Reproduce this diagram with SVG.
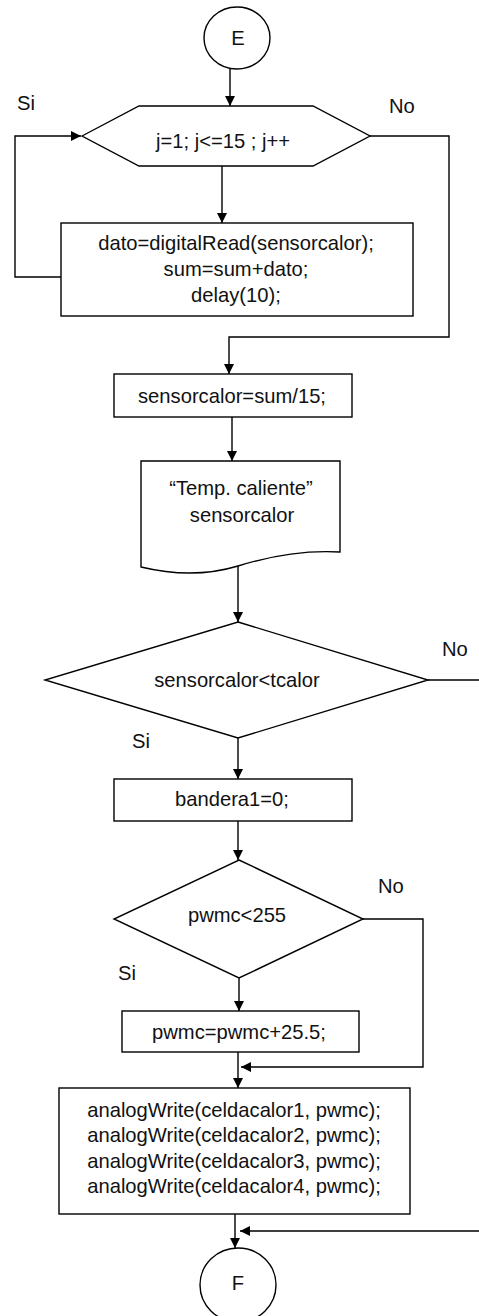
<svg xmlns="http://www.w3.org/2000/svg" width="479" height="1316" viewBox="0 0 479 1316">
<style>
.s{fill:#fff;stroke:#000;stroke-width:1.4}
.c{fill:none;stroke:#000;stroke-width:1.4}
text{font-family:"Liberation Sans",Arial,sans-serif;font-size:20.2px;fill:#111}
.m{text-anchor:middle}
</style>
<defs>
<marker id="ah" markerUnits="userSpaceOnUse" markerWidth="11" markerHeight="10" refX="10" refY="5" orient="auto">
<path d="M0,0 L10,5 L0,10 Z" fill="#000"/>
</marker>
</defs>
<rect width="479" height="1316" fill="#fff"/>
<g id="connectors">
<path class="c" d="M230,69 V106" marker-end="url(#ah)"/>
<path class="c" d="M222,166 V223" marker-end="url(#ah)"/>
<path class="c" d="M61,277 H15 V136 H81" marker-end="url(#ah)"/>
<path class="c" d="M370,136 H449 V337 H229 V374" marker-end="url(#ah)"/>
<path class="c" d="M232,417 V461" marker-end="url(#ah)"/>
<path class="c" d="M238,566 V622" marker-end="url(#ah)"/>
<path class="c" d="M238,738 V779" marker-end="url(#ah)"/>
<path class="c" d="M238,821 V860" marker-end="url(#ah)"/>
<path class="c" d="M239,978 V1011" marker-end="url(#ah)"/>
<path class="c" d="M238,1052 V1088" marker-end="url(#ah)"/>
<path class="c" d="M363,919 H423 V1067 H241" marker-end="url(#ah)"/>
<path class="c" d="M235,1214 V1248" marker-end="url(#ah)"/>
<path class="c" d="M428,680 H490 V1231 H240" marker-end="url(#ah)"/>
</g>
<g id="start">
<ellipse class="s" cx="237" cy="38" rx="33" ry="31"/>
<text class="m" x="238" y="45">E</text>
</g>
<g id="loop">
<polygon class="s" points="82,136 139,106 313,106 370,136 313,166 139,166"/>
<text class="m" x="223" y="148">j=1; j&lt;=15 ; j++</text>
</g>
<g id="loop-labels">
<text x="17" y="110">Si</text>
<text x="389" y="113">No</text>
</g>
<g id="read">
<rect class="s" x="61" y="223" width="352" height="93"/>
<text class="m" x="236" y="250">dato=digitalRead(sensorcalor);</text>
<text class="m" x="236" y="276">sum=sum+dato;</text>
<text class="m" x="236" y="302">delay(10);</text>
</g>
<g id="avg">
<rect class="s" x="114" y="374" width="238" height="43"/>
<text class="m" x="232" y="403">sensorcalor=sum/15;</text>
</g>
<g id="print">
<path class="s" d="M141,461 H340 V552 C305,550 270,556 238,566 C205,576 170,574 141,567 Z"/>
<text class="m" x="241" y="495">“Temp. caliente”</text>
<text class="m" x="242" y="522">sensorcalor</text>
</g>
<g id="dec1">
<polygon class="s" points="238,622 428,680 238,738 45,680"/>
<text class="m" x="237" y="687">sensorcalor&lt;tcalor</text>
<text x="442" y="656">No</text>
<text x="132" y="748">Si</text>
</g>
<g id="flag">
<rect class="s" x="114" y="779" width="238" height="42"/>
<text class="m" x="232" y="806">bandera1=0;</text>
</g>
<g id="dec2">
<polygon class="s" points="239,860 363,919 239,978 114,919"/>
<text class="m" x="237" y="922">pwmc&lt;255</text>
<text x="378" y="893">No</text>
<text x="118" y="980">Si</text>
</g>
<g id="inc">
<rect class="s" x="122" y="1011" width="237" height="41"/>
<text class="m" x="239" y="1039">pwmc=pwmc+25.5;</text>
</g>
<g id="write">
<rect class="s" x="59" y="1088" width="351" height="126"/>
<text class="m" x="234" y="1117">analogWrite(celdacalor1, pwmc);</text>
<text class="m" x="234" y="1142">analogWrite(celdacalor2, pwmc);</text>
<text class="m" x="234" y="1168">analogWrite(celdacalor3, pwmc);</text>
<text class="m" x="234" y="1193">analogWrite(celdacalor4, pwmc);</text>
</g>
<g id="end">
<ellipse class="s" cx="238" cy="1285" rx="38" ry="37"/>
<text class="m" x="238" y="1290">F</text>
</g>
</svg>
